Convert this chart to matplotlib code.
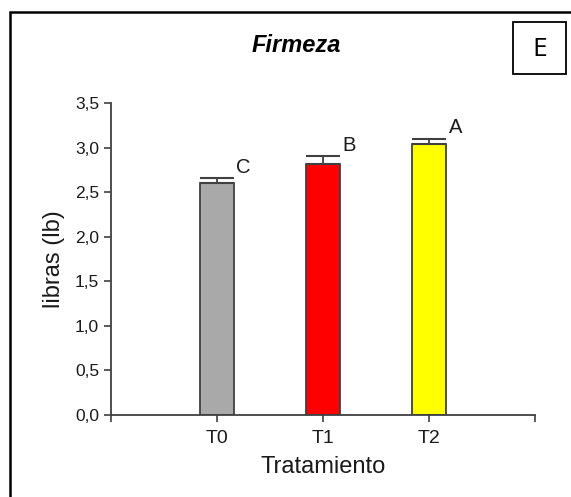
import matplotlib
matplotlib.use("Agg")
import matplotlib.pyplot as plt
from matplotlib.patches import Rectangle

# Data
treatments = ["T0", "T1", "T2"]
means = [2.60, 2.82, 3.04]
errors = [0.06, 0.08, 0.06]
letters = ["C", "B", "A"]
bar_colors = ["#A9A9A9", "#FF0000", "#FFFF00"]
y_ticks = [0.0, 0.5, 1.0, 1.5, 2.0, 2.5, 3.0, 3.5]
y_tick_labels = ["0,0", "0,5", "1,0", "1,5", "2,0", "2,5", "3,0", "3,5"]

plt.rcParams["font.family"] = ["Liberation Sans", "DejaVu Sans"]
edge = "#404040"

fig = plt.figure(figsize=(5.71, 4.97), dpi=100)
ax = fig.add_axes([111 / 571, 1 - 415 / 497, (535 - 111) / 571, (415 - 103) / 497])

x = list(range(len(treatments)))
ax.bar(x, means, width=0.32, color=bar_colors, edgecolor=edge, linewidth=1.3, zorder=2)
ax.errorbar(x, means, yerr=[[0] * len(errors), errors], fmt="none",
            ecolor=edge, elinewidth=1.3, capsize=12.2, capthick=1.5, zorder=3)

for xi, m, e, lab in zip(x, means, errors, letters):
    ax.text(xi + 0.25, m + e + 0.12, lab, ha="center", va="center",
            fontsize=14.5, color="#1a1a1a")

ax.set_xlim(-1, 3)
ax.set_ylim(0, 3.5)
ax.set_xticks([-1] + x + [3])
ax.set_xticklabels([""] + treatments + [""], fontsize=14)
ax.set_yticks(y_ticks)
ax.set_yticklabels(y_tick_labels, fontsize=12.5)

for side in ("top", "right"):
    ax.spines[side].set_visible(False)
for side in ("left", "bottom"):
    ax.spines[side].set_color(edge)
    ax.spines[side].set_linewidth(1.3)
ax.tick_params(axis="both", colors=edge, length=5, width=1.2, labelcolor="#1a1a1a")
ax.tick_params(axis="y", pad=3.5)
ax.tick_params(axis="x", pad=5.5)

ax.set_ylabel("libras (lb)", fontsize=17, color="#1a1a1a", labelpad=7)
ax.set_xlabel("Tratamiento", fontsize=17, color="#1a1a1a", labelpad=7)

fig.text(296 / 571, 1 - 46 / 497, "Firmeza", ha="center", va="center",
         fontsize=17, fontweight="bold", fontstyle="italic", color="black")

# Outer frame (open on the right and bottom)
fig.patches.append(Rectangle((10 / 571, -0.2), 1.2, 1 - 12 / 497 + 0.2,
                             transform=fig.transFigure, fill=False,
                             edgecolor="black", linewidth=1.8))

# Panel label box
fig.patches.append(Rectangle((513 / 571, 1 - 74 / 497), 53 / 571, 52 / 497,
                             transform=fig.transFigure, fill=False,
                             edgecolor="black", linewidth=1.3))
fig.text(539.5 / 571, 1 - 49 / 497, "E", ha="center", va="center",
         fontsize=19, family=["Open Sans", "DejaVu Sans"], color="black")

fig.savefig("out.png", dpi=100)
